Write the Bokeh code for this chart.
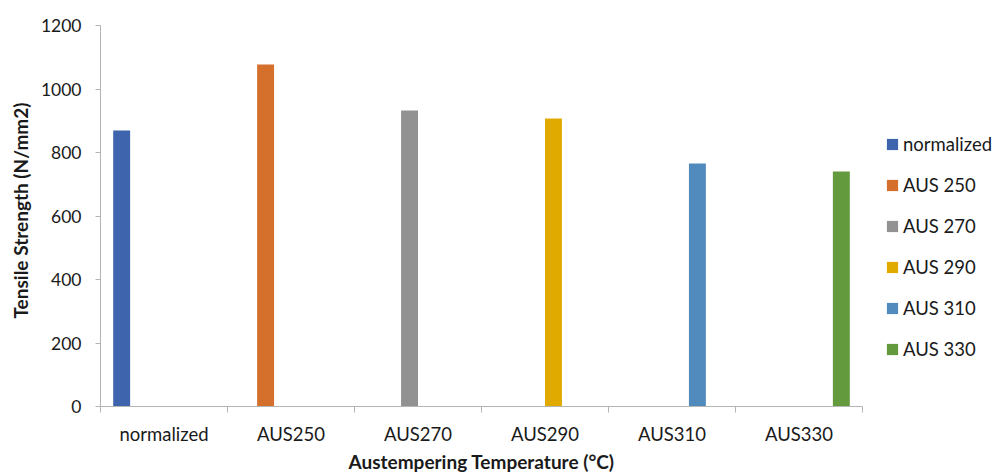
from bokeh.plotting import figure
from bokeh.models import Range1d, FixedTicker, Legend, LegendItem, Title
from bokeh.embed import file_html
from bokeh.resources import INLINE

# Tensile strength of each heat-treatment condition
categories = ["normalized", "AUS250", "AUS270", "AUS290", "AUS310", "AUS330"]
series_names = ["normalized", "AUS 250", "AUS 270", "AUS 290", "AUS 310", "AUS 330"]
tensile_strength = [869, 1077, 932, 907, 765, 740]
y_ticks = [0, 200, 400, 600, 800, 1000, 1200]
colors = ["#3D64AD", "#D46F2C", "#929292", "#E1AA00", "#518BBE", "#629A3D"]

FONT = "Lato"
AXIS_GREY = "#B4B4B4"
TEXT = "#1a1a1a"

# Layout: plot frame spans the full right side so the legend can sit beside the bars
W, H = 996, 476
LEFT, TOP, BOTTOM = 100, 25, 70
BAR_AREA_PX = 762                    # width used by the six categories

n_cat = len(categories)
n_series = len(series_names)
gap_width = 1.5                      # clustered-bar gap, as a fraction of one bar
bar_w = 1.0 / (n_series + gap_width)
x_end = n_cat * (W - LEFT) / BAR_AREA_PX

p = figure(
    width=W, height=H,
    x_range=Range1d(0, x_end), y_range=Range1d(0, 1200),
    output_backend="svg", toolbar_location=None,
    min_border_left=LEFT, min_border_right=0,
    min_border_top=TOP, min_border_bottom=BOTTOM,
)
p.outline_line_color = None
p.xgrid.visible = False
p.ygrid.visible = False

# One slot per series inside each category; each series fills only its own category
renderers = []
for j, (name, val, col) in enumerate(zip(series_names, tensile_strength, colors)):
    x = j + 0.5 + (j - (n_series - 1) / 2) * bar_w
    r = p.vbar(x=[x], top=[val], bottom=0, width=bar_w,
               fill_color=col, line_color=None)
    renderers.append(r)

# x axis: labels at category centres, tick marks on category boundaries
xa = p.xaxis[0]
xa.bounds = (0, n_cat)
xa.ticker = FixedTicker(ticks=[i + 0.5 for i in range(n_cat)],
                        minor_ticks=list(range(n_cat + 1)))
xa.major_label_overrides = {i + 0.5: c for i, c in enumerate(categories)}
xa.major_tick_line_color = None
xa.major_tick_out = 6
xa.major_tick_in = 0
xa.minor_tick_out = 6
xa.minor_tick_in = 0
xa.minor_tick_line_color = AXIS_GREY
xa.axis_line_color = AXIS_GREY
xa.major_label_standoff = 10
xa.major_label_text_font = FONT
xa.major_label_text_font_size = "18.5px"
xa.major_label_text_color = TEXT

# x-axis title, centred under the category area rather than the whole frame
x_title = Title(
    text="Austempering Temperature (°C)", align="left", offset=248,
    text_font=FONT, text_font_size="19px", text_font_style="bold",
    text_color=TEXT, standoff=0,
)
p.add_layout(x_title, "below")

ya = p.yaxis[0]
ya.ticker = FixedTicker(ticks=y_ticks)
ya.major_tick_out = 5
ya.major_tick_in = 0
ya.minor_tick_line_color = None
ya.major_tick_line_color = AXIS_GREY
ya.axis_line_color = AXIS_GREY
ya.major_label_standoff = 14
ya.major_label_text_font = FONT
ya.major_label_text_font_size = "17.5px"
ya.major_label_text_color = TEXT

# y-axis title, rotated, sitting slightly above the frame's middle
y_title = Title(
    text="Tensile Strength (N/mm2)", align="left", offset=88,
    text_font=FONT, text_font_size="19px", text_font_style="bold",
    text_color=TEXT, standoff=12,
)
p.add_layout(y_title, "left")

legend = Legend(
    items=[LegendItem(label=n, renderers=[r]) for n, r in zip(series_names, renderers)],
    location=(785, 46),
    margin=0, padding=0,
    border_line_color=None, background_fill_alpha=0,
    glyph_width=14, glyph_height=14,
    label_standoff=4, label_height=20, spacing=19,
    label_text_font=FONT, label_text_font_size="18.5px",
    label_text_color=TEXT,
)
p.add_layout(legend)

open("out.html", "w").write(file_html(p, INLINE))
